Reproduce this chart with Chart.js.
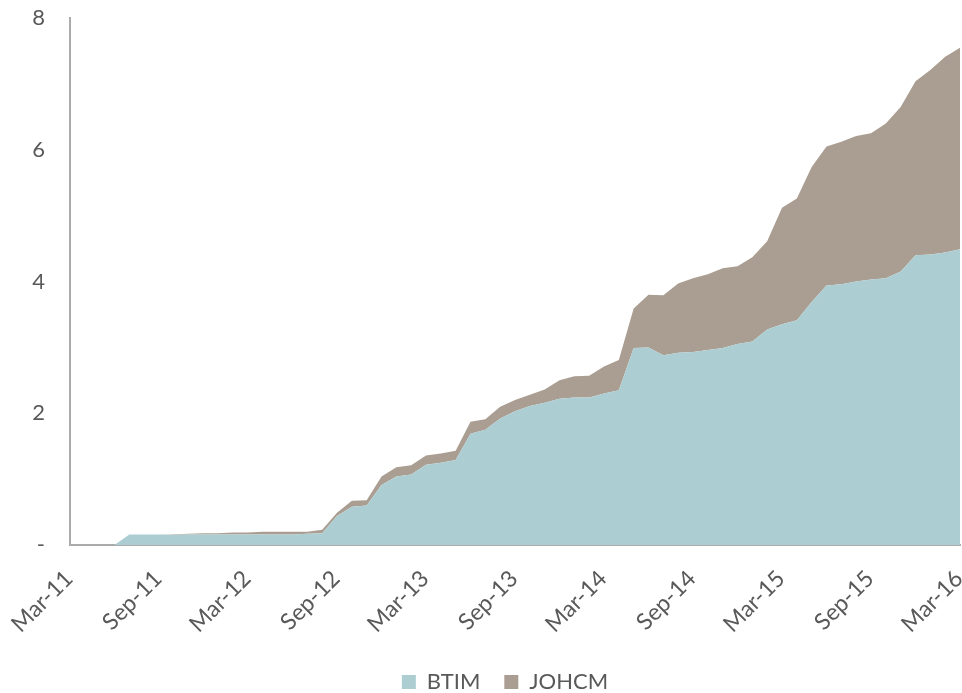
<!DOCTYPE html>
<html>
<head>
<meta charset="utf-8">
<script src="https://cdn.jsdelivr.net/npm/chart.js@4"></script>
<style>
  html, body { margin: 0; padding: 0; background: #fff; overflow: hidden; }
  #wrap { width: 962px; height: 703px; position: relative; }
</style>
</head>
<body>
<div id="wrap"><canvas id="fundChart"></canvas></div>
<script>
// monthly, Mar-11 .. Mar-16
const MONTHS = [
  'Mar-11','Apr-11','May-11','Jun-11','Jul-11','Aug-11','Sep-11','Oct-11','Nov-11','Dec-11',
  'Jan-12','Feb-12','Mar-12','Apr-12','May-12','Jun-12','Jul-12','Aug-12','Sep-12','Oct-12','Nov-12','Dec-12',
  'Jan-13','Feb-13','Mar-13','Apr-13','May-13','Jun-13','Jul-13','Aug-13','Sep-13','Oct-13','Nov-13','Dec-13',
  'Jan-14','Feb-14','Mar-14','Apr-14','May-14','Jun-14','Jul-14','Aug-14','Sep-14','Oct-14','Nov-14','Dec-14',
  'Jan-15','Feb-15','Mar-15','Apr-15','May-15','Jun-15','Jul-15','Aug-15','Sep-15','Oct-15','Nov-15','Dec-15',
  'Jan-16','Feb-16','Mar-16'
];

const BTIM = [
  0, 0, 0, 0, 0.16, 0.16, 0.16, 0.15, 0.16, 0.16,
  0.16, 0.16, 0.16, 0.16, 0.16, 0.16, 0.17, 0.18, 0.44, 0.58, 0.60, 0.91,
  1.04, 1.07, 1.22, 1.25, 1.29, 1.69, 1.75, 1.92, 2.03, 2.11, 2.16, 2.22,
  2.24, 2.24, 2.30, 2.35, 2.99, 3.00, 2.88, 2.92, 2.93, 2.96, 2.99, 3.05,
  3.09, 3.27, 3.35, 3.41, 3.69, 3.94, 3.96, 4.00, 4.03, 4.05, 4.15, 4.40,
  4.41, 4.44, 4.49
];

const JOHCM = [
  0, 0, 0, 0, 0, 0, 0, 0.01, 0.01, 0.02,
  0.02, 0.03, 0.03, 0.04, 0.04, 0.04, 0.03, 0.05, 0.05, 0.09, 0.08, 0.13,
  0.14, 0.14, 0.14, 0.14, 0.14, 0.18, 0.16, 0.18, 0.17, 0.17, 0.20, 0.28,
  0.32, 0.33, 0.41, 0.46, 0.60, 0.80, 0.91, 1.05, 1.12, 1.15, 1.21, 1.18,
  1.28, 1.34, 1.77, 1.85, 2.05, 2.11, 2.16, 2.21, 2.22, 2.35, 2.50, 2.64,
  2.80, 2.97, 3.06
];

const Y_TICKS = [0, 2, 4, 6, 8];
const LABEL_EVERY = 6;

const TEXT = '#595959';
const AXIS = '#ABABAB';
const FONT = 'Lato, "Open Sans", sans-serif';

// nudge the legend a little left, the original isn't centred on the plot
const legendNudge = {
  id: 'legendNudge',
  afterLayout(chart) {
    chart.legend.left -= 10;
    chart.legend.right -= 10;
  },
};

new Chart(document.getElementById('fundChart'), {
  type: 'line',
  data: {
    labels: MONTHS,
    datasets: [
      { label: 'BTIM', data: BTIM, fill: 'origin', backgroundColor: '#ACCED2', borderColor: '#ACCED2', borderWidth: 0, pointRadius: 0, tension: 0 },
      { label: 'JOHCM', data: JOHCM, fill: '-1', backgroundColor: '#AA9E92', borderColor: '#AA9E92', borderWidth: 0, pointRadius: 0, tension: 0 },
    ],
  },
  plugins: [legendNudge],
  options: {
    responsive: true,
    maintainAspectRatio: false,
    animation: false,
    layout: { padding: { top: 18, right: 2, left: 0, bottom: 0 } },
    plugins: {
      tooltip: { enabled: false },
      legend: {
        position: 'bottom',
        fullSize: false,
        labels: { boxWidth: 14, boxHeight: 14, padding: 24, color: TEXT, font: { family: FONT, size: 22 } },
      },
    },
    scales: {
      x: {
        grid: { display: false, drawTicks: false },
        border: { display: true, color: AXIS, width: 2 },
        ticks: {
          autoSkip: false, minRotation: 45, maxRotation: 45, padding: 20, labelOffset: -1,
          color: TEXT, font: { family: FONT, size: 23 },
          callback: (v, i) => (i % LABEL_EVERY === 0 ? MONTHS[i] : ''),
        },
        afterFit: s => { s.height = 102; s.paddingLeft = 0; s.paddingRight = 0; },
      },
      y: {
        stacked: true,
        min: 0, max: 8,
        grid: { display: false, drawTicks: false },
        border: { display: true, color: AXIS, width: 2 },
        afterBuildTicks: s => { s.ticks = Y_TICKS.map(v => ({ value: v })); },
        ticks: {
          padding: 25, color: TEXT, font: { family: FONT, size: 22 },
          callback: v => (v === 0 ? '-' : v),
        },
        afterFit: s => { s.width = 70; s.paddingTop = 0; s.paddingBottom = 0; },
      },
    },
  },
});
</script>
</body>
</html>
